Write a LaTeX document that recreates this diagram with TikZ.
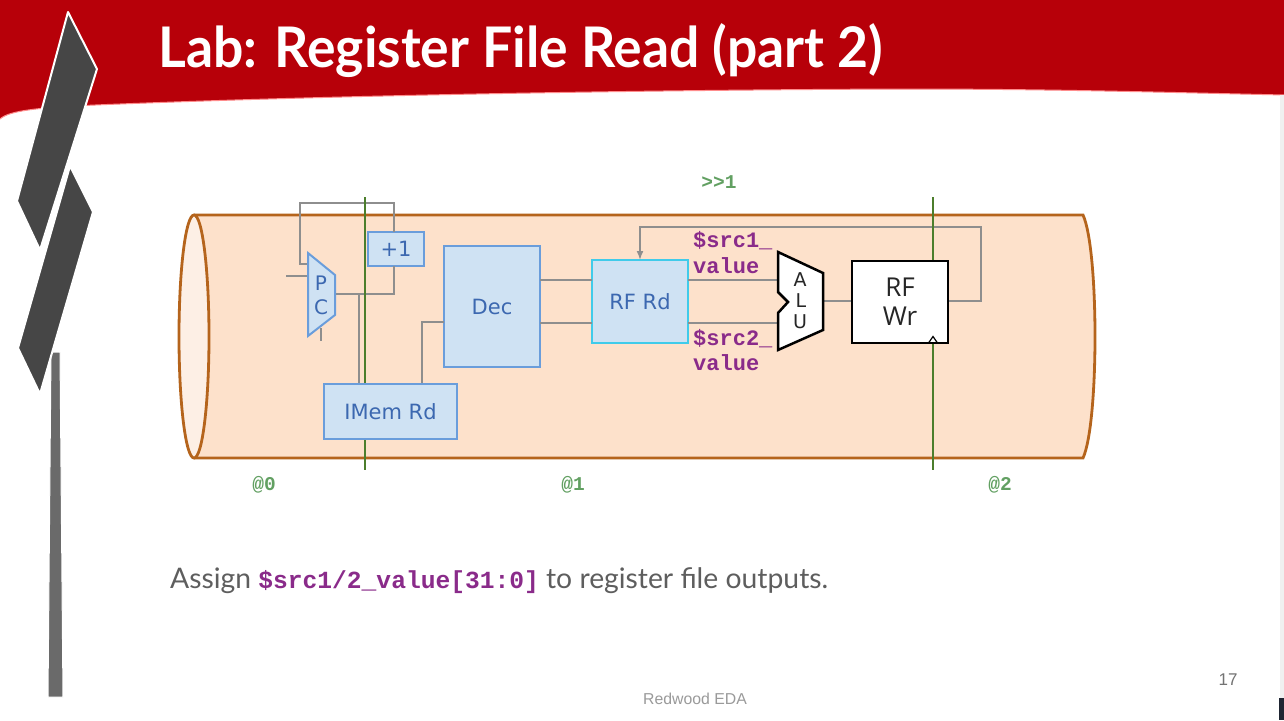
\documentclass[tikz,border=0pt]{standalone}
\usepackage{fontspec}
\setmainfont{Lato}
\newfontfamily\titlefont[FakeStretch=0.955]{Lato}
\newfontfamily\dejavu{DejaVu Sans}
\newfontfamily\monofont{Liberation Mono}
\newfontfamily\arialfont{Liberation Sans}
\newfontfamily\opensans{Open Sans}
\usetikzlibrary{arrows.meta,calc}
\definecolor{slidered}{HTML}{B70009}
\definecolor{decodark}{HTML}{464646}
\definecolor{decobar}{HTML}{6A6A6A}
\definecolor{cylfill}{HTML}{FDE1CB}
\definecolor{cylend}{HTML}{FDEFE5}
\definecolor{cylline}{HTML}{B5641C}
\definecolor{wiregray}{HTML}{8E8E8E}
\definecolor{stagegreen}{HTML}{4C7E2C}
\definecolor{labelgreen}{HTML}{62A062}
\definecolor{boxfill}{HTML}{CFE2F3}
\definecolor{boxline}{HTML}{6A9DDB}
\definecolor{boxtext}{HTML}{3C68B0}
\definecolor{rfrdline}{HTML}{40CBEA}
\definecolor{codepurple}{HTML}{8A2B8A}
\definecolor{bodygray}{HTML}{5E5E5E}
\definecolor{footgray}{HTML}{9A9A9A}
\definecolor{edgedark}{HTML}{1F2532}
\begin{document}
\begin{tikzpicture}[x=1pt,y=-1pt,
  wire/.style={draw=wiregray,line width=1.6pt},
  stage/.style={draw=stagegreen,line width=2.2pt},
  blockbox/.style={draw=boxline,fill=boxfill,line width=2pt,inner sep=0pt,outer sep=0pt,
    text=boxtext,font=\dejavu\fontsize{21}{24}\selectfont,anchor=north west},
  rfwrbox/.style={draw=black,fill=white,line width=2.5pt,inner sep=0pt,outer sep=0pt,anchor=north west,
    minimum width=96,minimum height=82,align=center,text=black!85,
    font=\opensans\fontsize{26}{29}\selectfont},
  srclabel/.style={anchor=base west,text=codepurple,font=\monofont\bfseries\fontsize{22}{24}\selectfont,inner sep=0pt},
  stagelabel/.style={text=labelgreen,font=\monofont\bfseries\fontsize{19.5}{21}\selectfont,inner sep=0pt},
  deco/.style={fill=decodark,draw=white,line width=2pt,line join=round},
  alutext/.style={font=\dejavu\fontsize{19}{20}\selectfont,text=black!85,inner sep=0pt}
]
\useasboundingbox (0,0) rectangle (1284,720);
\fill[white] (0,0) rectangle (1284,720);
% header band
\fill[slidered] (0,0) -- (1284,0) -- (1284,95)
  .. controls (1150,92) and (1050,89) .. (900,89)
  .. controls (650,90) and (350,95) .. (120,104)
  .. controls (40,107) and (10,110) .. (0,119) -- cycle;
\draw[red!45,line width=1pt] (1284,95)
  .. controls (1150,92) and (1050,89) .. (900,89)
  .. controls (650,90) and (350,95) .. (120,104)
  .. controls (40,107) and (10,110) .. (0,119);
% right edge strip
\fill[black!6] (1280,95) rectangle (1284,720);
\fill[edgedark] (1279,698) rectangle (1284,720);
% left decoration
\filldraw[fill=decobar,draw=white,line width=1pt] (51,352) -- (60,352) -- (63,697) -- (48,697) -- cycle;
\filldraw[deco] (68,12) -- (97,69) -- (40,250) -- (17,201) -- cycle;
\filldraw[deco] (70,166) -- (93,212) -- (40,394) -- (18,348) -- cycle;
% title
\node[anchor=base west,inner sep=0pt,text=white,font=\titlefont\fontsize{56}{60}\selectfont\bfseries] (title) at (158,67) {Lab: Register File Read (part 2)};
% cylinder
\fill[cylfill] (194,215) -- (1083,215) .. controls (1099,250) and (1099,423) .. (1083,458) -- (194,458) -- cycle;
\draw[draw=cylline,line width=2.8pt] (194,215) -- (1083,215) .. controls (1099,250) and (1099,423) .. (1083,458) -- (194,458);
\filldraw[draw=cylline,fill=cylend,line width=2.8pt] (194,336.5) ellipse [x radius=15, y radius=121.5];
% nodes
\node[blockbox,minimum width=56,minimum height=34] (inc) at (368,232) {+1};
\node[blockbox,minimum width=96,minimum height=121] (dec) at (444,246) {Dec};
\node[blockbox,minimum width=133,minimum height=55] (imem) at (324,384) {IMem Rd};
\node[blockbox,draw=rfrdline,line width=2.5pt,minimum width=96,minimum height=83] (rfrd) at (592,260) {RF Rd};
\node[rfwrbox] (rfwr) at (852,261) {RF\\Wr};
% PC and ALU anchor points
\coordinate (pcin) at (308,264);
\coordinate (pcl) at (308,276);
\coordinate (pcout) at (335,294);
\coordinate (pcsel) at (321,328);
\coordinate (aluin1) at (778,280);
\coordinate (aluin2) at (778,323);
\coordinate (aluout) at (823,301);
\coordinate (stubin) at (286,276);
\coordinate (stubsel) at (321,341);
% wires
\draw[wire] (pcin) -| (300,203) -| (inc.north -| 394,0);
\draw[wire] (pcout) -| (inc.south -| 394,0);
\draw[wire] (pcout -| 359,0) -- (imem.north -| 359,0);
\draw[wire] (stubin) -- (pcl);
\draw[wire] (pcsel) -- (stubsel);
\draw[wire] (imem.north -| 422,0) |- (dec.west |- 0,322);
\draw[wire] (dec.east |- aluin1) -- (rfrd.west |- aluin1);
\draw[wire] (dec.east |- aluin2) -- (rfrd.west |- aluin2);
\draw[wire] (rfrd.east |- aluin1) -- (aluin1);
\draw[wire] (rfrd.east |- aluin2) -- (aluin2);
\draw[wire] (aluout) -- (rfwr.west |- aluout);
\draw[wire,-{Latex[length=9pt,width=7pt]}] (rfwr.east |- aluout) -| (981,227) -| (rfrd.north -| 640,0);
% stage lines
\draw[stage] (365,197) -- (365,470);
\draw[stage] (933,197) -- (933,470);
% redraw boxes over stage lines
\node[blockbox,minimum width=133,minimum height=55] at (324,384) {IMem Rd};
\node[rfwrbox] at (852,261) {RF\\Wr};
\draw[black,line width=1.2pt,line join=miter] (928.5,343) -- (933,336.5) -- (937.5,343);
% PC mux
\filldraw[draw=boxline,fill=boxfill,line width=2pt] (308,253) -- (335,275) -- (335,315) -- (308,336) -- cycle;
\node[text=boxtext,font=\dejavu\fontsize{20}{20}\selectfont,inner sep=0pt] (pcp) at (321,283) {P};
\node[text=boxtext,font=\dejavu\fontsize{20}{20}\selectfont,inner sep=0pt] (pcc) at (321,307) {C};
% ALU
\filldraw[draw=black,fill=white,line width=2.5pt,line join=miter] (778,252) -- (823,273) -- (823,330) -- (778,350) -- (778,313) -- (788,302) -- (778,292) -- cycle;
\node[alutext] (alua) at (800,280) {A};
\node[alutext] (alul) at (801,301) {L};
\node[alutext] (aluu) at (800,322) {U};
% labels
\node[srclabel] (s1a) at (693,247) {\$src1\_};
\node[srclabel] (s1b) at (693,273) {value};
\node[srclabel] (s2a) at (693,345) {\$src2\_};
\node[srclabel] (s2b) at (693,370) {value};
\node[stagelabel] (shift) at (719,182) {>>1};
\node[stagelabel] (at0) at (264,485) {@0};
\node[stagelabel] (at1) at (573,485) {@1};
\node[stagelabel] (at2) at (1000,485) {@2};
% body text
\node[anchor=base west,inner sep=0pt,text=bodygray,font=\fontsize{28.3}{32}\selectfont] (body) at (170,588)
  {Assign \textcolor{codepurple}{\monofont\bfseries\fontsize{24.6}{28}\selectfont\$src1/2\_value[31:0]} to register file outputs.};
% footer
\node[text=footgray,font=\arialfont\fontsize{15.8}{18}\selectfont,inner sep=0pt] (foot) at (695,699) {Redwood EDA};
\node[text=black!55,font=\arialfont\fontsize{17}{19}\selectfont,inner sep=0pt] (pagenum) at (1228,680) {17};
\end{tikzpicture}
\end{document}
